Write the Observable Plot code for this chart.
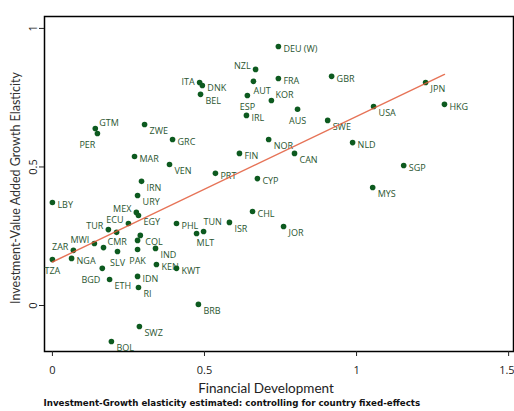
<!DOCTYPE html>
<html><head><meta charset="utf-8">
<script src="https://cdn.jsdelivr.net/npm/d3@7"></script>
<script src="https://cdn.jsdelivr.net/npm/@observablehq/plot@0.6"></script>
<style>body{margin:0;background:#fff;} svg{display:block}</style>
</head><body><div id="chart"></div>
<script>
// ---- data ----
const countries = ["DEU (W)","NZL","ITA","DNK","BEL","AUT","FRA","GBR","ESP","KOR","IRL","AUS","JPN","HKG","USA","SWE","NLD","NOR","CAN","FIN","SGP","MYS","CYP","PRT","GTM","PER","ZWE","GRC","MAR","VEN","IRN","URY","LBY","CHL","JOR","ISR","TUN","MLT","PHL","MEX","EGY","ECU","TUR","","MWI","CMR","SLV","COL","","PAK","IND","ZAR","NGA","TZA","BGD","ETH","KEN","KWT","IDN","RI","BRB","SWZ","BOL"];
const financialDevelopment = [0.743,0.668,0.484,0.493,0.487,0.661,0.743,0.918,0.641,0.720,0.638,0.806,1.227,1.289,1.056,0.905,0.987,0.711,0.796,0.615,1.155,1.053,0.674,0.536,0.141,0.148,0.303,0.395,0.270,0.385,0.293,0.280,0.000,0.658,0.760,0.582,0.497,0.474,0.408,0.276,0.283,0.250,0.184,0.211,0.138,0.168,0.214,0.289,0.280,0.280,0.339,0.069,0.063,0.000,0.164,0.188,0.342,0.408,0.280,0.283,0.480,0.286,0.194];
const elasticity = [0.935,0.852,0.805,0.794,0.762,0.809,0.819,0.827,0.758,0.740,0.686,0.708,0.805,0.726,0.718,0.668,0.588,0.599,0.549,0.549,0.505,0.426,0.458,0.477,0.639,0.621,0.653,0.599,0.538,0.509,0.448,0.397,0.372,0.339,0.285,0.300,0.267,0.260,0.296,0.336,0.325,0.296,0.274,0.264,0.224,0.209,0.195,0.253,0.235,0.202,0.206,0.199,0.170,0.166,0.134,0.094,0.148,0.134,0.105,0.065,0.004,-0.076,-0.130];
// marker-label clock position (as in Stata's mlabvposition)
const labelClock = [3,10,9,3,4,5,3,3,6,2,3,6,4,3,4,4,3,4,4,3,3,4,3,3,2,7,4,3,3,4,4,4,3,3,4,4,1,5,3,10,4,10,10,3,10,2,6,4,3,6,4,10,3,6,7,4,3,3,3,4,4,4,4];
const fitX = [0, 1.289];
const fitY = [0.157, 0.834];
const xTicks = [0, 0.5, 1, 1.5];
const yTicks = [0, 0.5, 1];
const xLabel = "Financial Development";
const yLabel = "Investment-Value Added Growth Elasticity";
const note = "Investment-Growth elasticity estimated: controlling for country fixed-effects";

// ---- build ----
const points = countries.map((c, i) => ({country: c, fd: financialDevelopment[i], el: elasticity[i], clock: labelClock[i]}));
const fit = fitX.map((x, i) => ({x, y: fitY[i]}));

const clockStyle = {
  1: {dx: 0, dy: -9, textAnchor: "start"},
  2: {dx: 4, dy: -5, textAnchor: "start"},
  3: {dx: 5, dy: 3, textAnchor: "start"},
  4: {dx: 5, dy: 7, textAnchor: "start"},
  5: {dx: 0, dy: 10, textAnchor: "start"},
  6: {dx: 0, dy: 12, textAnchor: "middle"},
  7: {dx: -2, dy: 12, textAnchor: "end"},
  9: {dx: -5, dy: 0, textAnchor: "end"},
  10: {dx: -5, dy: -3, textAnchor: "end"}
};
const font = "'Open Sans', 'DejaVu Sans', sans-serif";
const titleFont = "Lato, 'Open Sans', sans-serif";
const labelMarks = Object.entries(clockStyle).map(([k, s]) =>
  Plot.text(points.filter(d => d.clock === +k && d.country), {
    x: "fd", y: "el", text: "country", ...s,
    fontSize: 9, fill: "#2a5530", fontFamily: font
  })
);
const lastTick = xTicks[xTicks.length - 1];

const chart = Plot.plot({
  width: 514,
  height: 411,
  marginLeft: 44,
  marginRight: 1,
  marginTop: 16,
  marginBottom: 60,
  style: {fontFamily: font, background: "#fff", color: "#222"},
  x: {domain: [-0.026, 1.516]},
  y: {domain: [-0.166, 1.043]},
  marks: [
    Plot.frame({stroke: "#000", strokeWidth: 1.5}),
    Plot.axisX({ticks: xTicks, tickSize: 5, text: null, label: null}),
    Plot.axisX({ticks: xTicks.filter(t => t !== lastTick), tickSize: 0, tickPadding: 15, fontSize: 11, label: null, tickFormat: d => String(d)}),
    Plot.axisX({ticks: [lastTick], tickSize: 0, tickPadding: 15, fontSize: 11, label: null, textAnchor: "end", dx: 6, tickFormat: d => String(d)}),
    Plot.axisY({ticks: yTicks, tickSize: 5, tickPadding: 3, tickRotate: -90, fontSize: 11, label: null, tickFormat: d => String(d)}),
    Plot.text([xLabel], {frameAnchor: "bottom", dx: -13, dy: 41, fontSize: 13.5, fill: "#222", fontFamily: titleFont}),
    Plot.text([yLabel], {frameAnchor: "left", textAnchor: "middle", rotate: -90, dx: -29, dy: 4, fontSize: 12.5, fill: "#333", fontFamily: titleFont}),
    Plot.text([note], {frameAnchor: "bottom-left", dx: -1, dy: 54, fontSize: 8.7, fontWeight: "bold", fill: "#111", textAnchor: "start", fontFamily: "'DejaVu Sans', sans-serif"}),
    ...labelMarks,
    Plot.dot(points, {x: "fd", y: "el", r: 2.8, fill: "#0d5a1f", stroke: "none"}),
    Plot.line(fit, {x: "x", y: "y", stroke: "#e25a3a", strokeWidth: 1.4, strokeOpacity: 0.85})
  ]
});
document.getElementById("chart").appendChild(chart);
</script>
</body></html>
